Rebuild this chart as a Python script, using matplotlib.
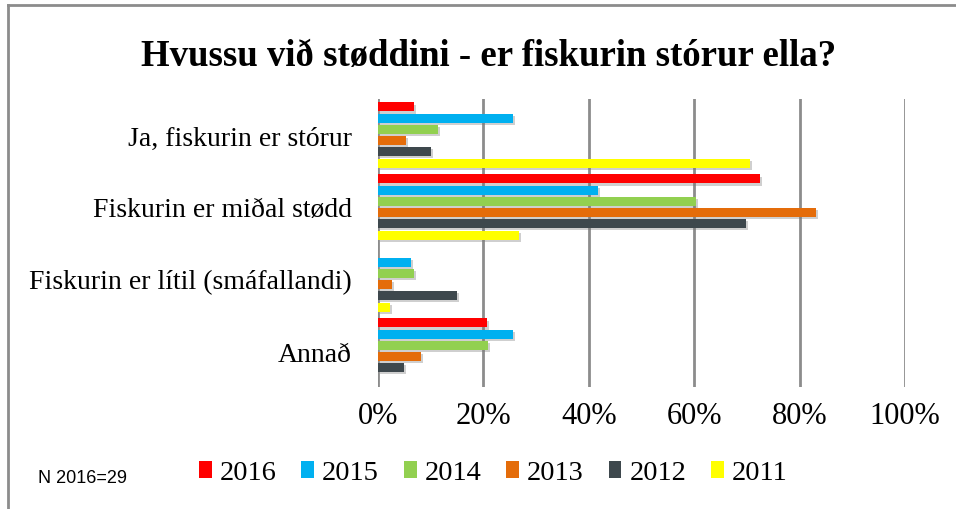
import matplotlib
matplotlib.use("Agg")
import matplotlib.pyplot as plt
import matplotlib.patheffects as pe
from matplotlib.lines import Line2D
import numpy as np

categories = [
    "Ja, fiskurin er stórur",
    "Fiskurin er miðal stødd",
    "Fiskurin er lítil (smáfallandi)",
    "Annað",
]
years = ["2016", "2015", "2014", "2013", "2012", "2011"]
y2016 = [6.9, 72.4, 0.0, 20.7]
y2015 = [25.6, 41.8, 6.3, 25.6]
y2014 = [11.4, 60.3, 6.8, 20.8]
y2013 = [5.3, 83.1, 2.7, 8.2]
y2012 = [10.1, 69.9, 14.9, 4.9]
y2011 = [70.6, 26.7, 2.2, 0.0]
series = [y2016, y2015, y2014, y2013, y2012, y2011]
colors = ["#FF0000", "#00B0F0", "#92D050", "#E46C0A", "#3E484D", "#FFFF00"]
xticks = [0, 20, 40, 60, 80, 100]

W, H = 956, 510
fig = plt.figure(figsize=(W / 100, H / 100), dpi=100)
serif = ["Liberation Serif", "DejaVu Serif"]

# axes in pixel terms: x 378..905, y 100..388
ax = fig.add_axes([378 / W, (H - 388) / H, (905 - 378) / W, 288 / H])

pitch = 0.156
height = 0.125
ypos = np.arange(len(categories))[::-1]
shadow = [pe.SimplePatchShadow(offset=(1.5, -1.5), shadow_rgbFace="#777777", alpha=0.35), pe.Normal()]
for j, (vals, col, yr) in enumerate(zip(series, colors, years)):
    y = ypos + (2.5 - j) * pitch
    bars = ax.barh(y, vals, height=height, color=col, label=yr, zorder=3)
    for b in bars:
        if b.get_width() > 0:
            b.set_path_effects(shadow)

ax.set_xlim(0, 100)
ax.set_ylim(-0.5, len(categories) - 0.5)
ax.set_xticks(xticks)
ax.set_xticklabels([f"{t}%" for t in xticks], family=serif, fontsize=22)
ax.set_yticks(ypos)
ax.set_yticklabels(categories, family=serif, fontsize=20)
ax.tick_params(axis="x", length=0, pad=10)
ax.tick_params(axis="y", length=0, pad=19)
for s in ax.spines.values():
    s.set_visible(False)
for t in xticks:
    ax.axvline(t, color="#8C8C8C", lw=2, zorder=1)

fig.text(488.5 / W, (H - 66) / H, "Hvussu við støddini - er fiskurin stórur ella?",
         ha="center", va="baseline", family=serif, fontweight="bold", fontsize=26.5)

fig.text(38 / W, (H - 479) / H, "N 2016=29", ha="left", va="center",
         family=["Liberation Sans", "DejaVu Sans"], fontsize=13)

leg = fig.legend(loc="center left", bbox_to_anchor=(199 / W, (H - 474) / H), ncol=6,
                 frameon=False, prop={"family": serif, "size": 20.5},
                 handlelength=0.45, handleheight=0.55, handletextpad=0.28,
                 columnspacing=0.87, borderpad=0, borderaxespad=0)
for h in leg.legend_handles:
    h.set_path_effects([])

# frame around the chart (left and top edges visible)
fig.add_artist(Line2D([8 / W, 8 / W], [0, (H - 6) / H], color="#8C8C8C", lw=2))
fig.add_artist(Line2D([8 / W, 1], [(H - 6) / H, (H - 6) / H], color="#8C8C8C", lw=2))

fig.savefig("out.png", dpi=100)
